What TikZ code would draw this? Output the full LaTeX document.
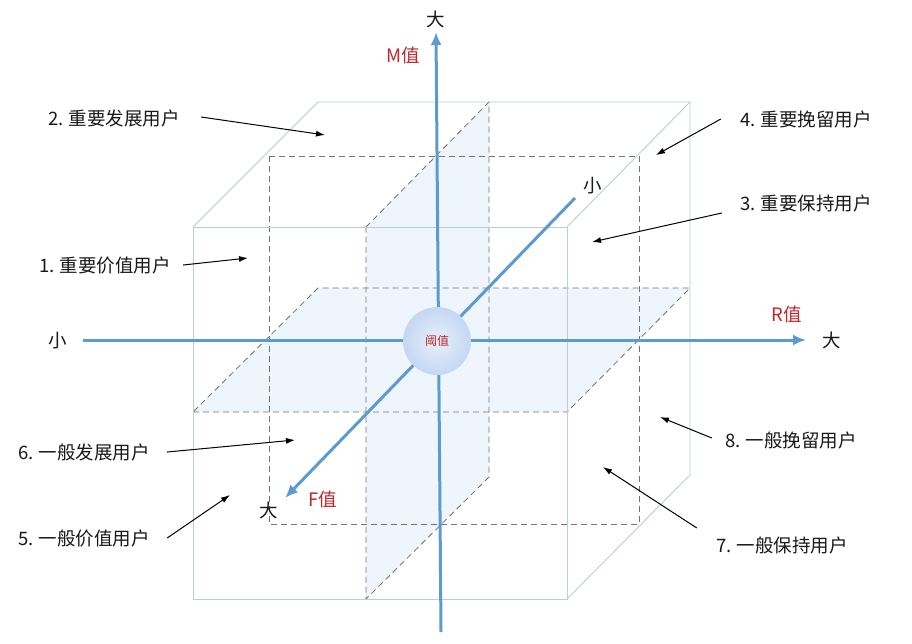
\documentclass[tikz,border=0pt]{standalone}
\usepackage{fontspec}
\setmainfont{Noto Sans CJK SC}
\usetikzlibrary{arrows.meta}
\definecolor{axisblue}{RGB}{91,155,207}
\definecolor{edgec}{RGB}{185,206,214}
\definecolor{dashc}{RGB}{115,115,115}
\definecolor{planec}{RGB}{239,245,252}
\definecolor{spherein}{RGB}{232,239,251}
\definecolor{sphereout}{RGB}{196,215,242}
\definecolor{redt}{RGB}{192,39,45}
\definecolor{txt}{RGB}{25,25,25}
\begin{document}
\begin{tikzpicture}[x=1pt,y=-1pt,
  cubeedge/.style={draw=edgec, line width=0.9pt},
  dashedge/.style={draw=dashc, dash pattern=on 6pt off 4pt, line width=0.8pt},
  axisline/.style={draw=axisblue, line width=3pt, -{Latex[length=13pt,width=11pt]}},
  pointer/.style={draw=black, line width=1pt, -{Latex[length=9pt,width=6pt]}},
  lbl/.style={font=\fontsize{18.5}{21}\selectfont, text=txt, inner sep=0pt},
  redlbl/.style={font=\fontsize{18.5}{21}\selectfont, text=redt, inner sep=0pt},
  planefill/.style={fill=planec, draw=none}
]
\useasboundingbox (0,0) rectangle (912,643);
\fill[white] (0,0) rectangle (912,643);

% corners
\coordinate (F1) at (193,227); \coordinate (F2) at (567,227);
\coordinate (F3) at (567,599); \coordinate (F4) at (193,599);
\coordinate (B1) at (318,102); \coordinate (B2) at (690,102);
\coordinate (B3) at (690,475);
\coordinate (V1) at (366,227); \coordinate (V2) at (489,102);
\coordinate (V3) at (489,477); \coordinate (V4) at (366,599);
\coordinate (H1) at (193,412); \coordinate (H2) at (567,412);
\coordinate (H3) at (690,288); \coordinate (H4) at (318,288);
\coordinate (D1) at (269,156); \coordinate (D2) at (639,524);

% planes
\path[planefill] (V1) -- (V2) -- (V3) -- (V4) -- cycle;
\path[planefill] (H1) -- (H2) -- (H3) -- (H4) -- cycle;

% dashed lines
\draw[dashedge] (D1) rectangle (D2);
\draw[dashedge] (V1) -- (V2) -- (V3) -- (V4) -- cycle;
\draw[dashedge] (H1) -- (H2) -- (H3) -- (H4) -- cycle;

% outer cube
\draw[cubeedge] (F1) rectangle (F3);
\draw[cubeedge] (F1) -- (B1) -- (B2) -- (B3) -- (F3);
\draw[cubeedge] (F2) -- (B2);

% axes
\coordinate (Mb) at (441,632); \coordinate (Mt) at (436,32);
\coordinate (Rl) at (83,340);  \coordinate (Rr) at (806,340);
\coordinate (Fs) at (575,198); \coordinate (Fe) at (285,498);
\draw[axisline] (Rl) -- (Rr);
\draw[axisline] (Fs) -- (Fe);
\draw[axisline] (Mb) -- (Mt);

% threshold sphere
\shade[inner color=spherein, outer color=sphereout] (437,341) circle (34);
\node[font=\fontsize{12}{13}\selectfont, text=redt, inner sep=0pt] (thr) at (437,341) {阈值};

% axis labels
\node[lbl] (mbig) at (436,19) {大};
\node[redlbl] (mval) at (403,55) {M值};
\node[lbl] (rsmall) at (58,341) {小};
\node[lbl] (rbig) at (832,340) {大};
\node[redlbl] (rval) at (787,314) {R值};
\node[lbl] (fsmall) at (593,186) {小};
\node[lbl] (fbig) at (269,510) {大};
\node[redlbl] (fval) at (323,499) {F值};

% segment labels
\node[lbl] (l2) at (114,118) {2. 重要发展用户};
\node[lbl] (l1) at (105,265) {1. 重要价值用户};
\node[lbl] (l4) at (806,119) {4. 重要挽留用户};
\node[lbl] (l3) at (806,203) {3. 重要保持用户};
\node[lbl] (l6) at (84,452) {6. 一般发展用户};
\node[lbl] (l5) at (84,538) {5. 一般价值用户};
\node[lbl] (l8) at (791,440) {8. 一般挽留用户};
\node[lbl] (l7) at (782,545) {7. 一般保持用户};

\coordinate (t2) at (325,135); \coordinate (t1) at (248,258);
\coordinate (t4) at (656,155); \coordinate (t3) at (592,242);
\coordinate (t6) at (295,440); \coordinate (t5) at (230,495);
\coordinate (t8) at (660,417); \coordinate (t7) at (603,467);

\draw[pointer] ([shift={(21,-1)}]l2.east) -- (t2);
\draw[pointer] ([shift={(12,0)}]l1.east) -- (t1);
\draw[pointer] ([shift={(-19,0)}]l4.west) -- (t4);
\draw[pointer] ([shift={(-18,10)}]l3.west) -- (t3);
\draw[pointer] ([shift={(17,0)}]l6.east) -- (t6);
\draw[pointer] ([shift={(17,0)}]l5.east) -- (t5);
\draw[pointer] ([shift={(-13,-2)}]l8.west) -- (t8);
\draw[pointer] ([shift={(-19,-17)}]l7.west) -- (t7);
\end{tikzpicture}
\end{document}
